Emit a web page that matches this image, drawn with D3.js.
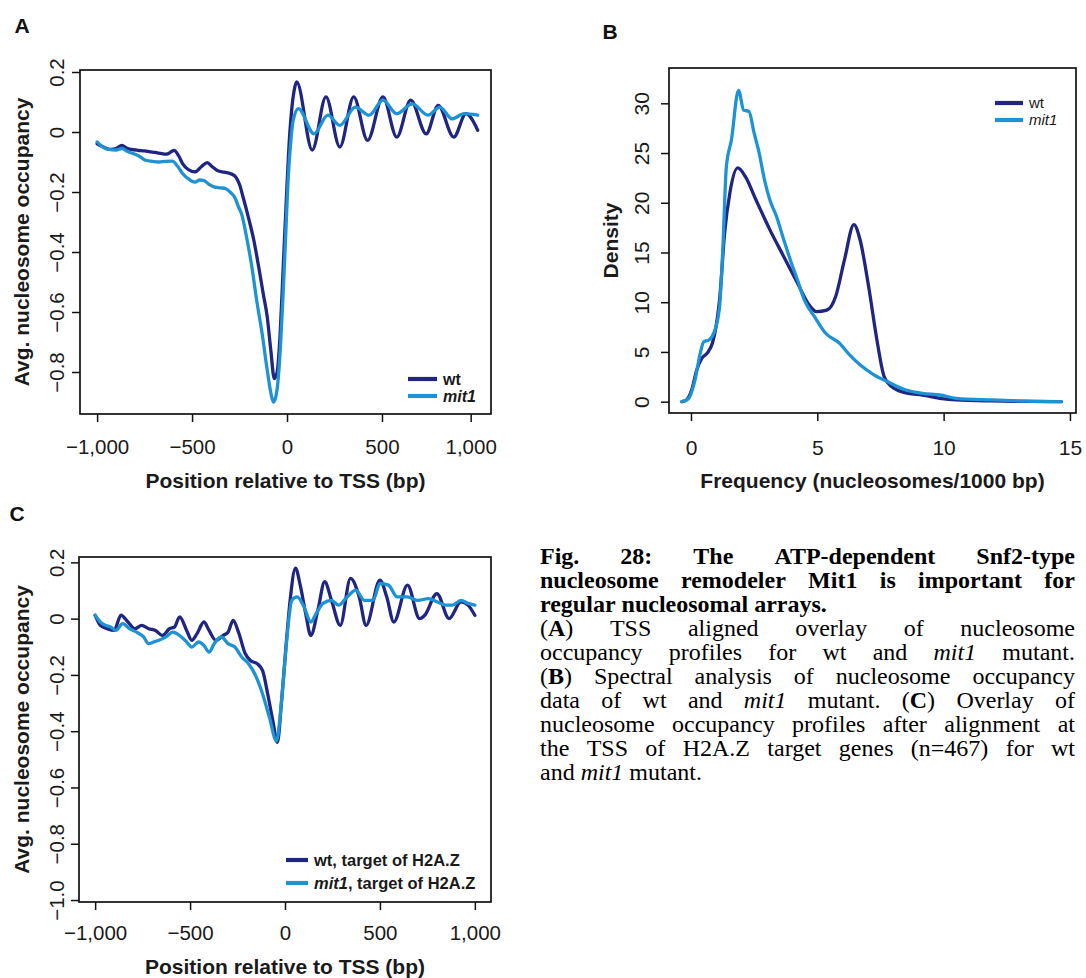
<!DOCTYPE html>
<html><head><meta charset="utf-8">
<script src="https://cdn.jsdelivr.net/npm/d3@7"></script>
<style>body{margin:0;background:#fff}svg{display:block}</style>
</head><body>
<svg id="fig" width="1086" height="978"></svg>
<script>
// ---------- Panel A data (position relative to TSS, bp) ----------
const aWtX = [-1000,-967,-930,-900,-870,-840,-820,-785,-750,-720,-695,-660,-635,-610,-595,-570,-550,-520,-485,-450,-420,-395,-367,-330,-296,-270,-250,-230,-204,-175,-149,-125,-104,-85,-67,-52,-36,-20,-4,10,24,38,51,133,205,278,351,424,505,578,651,733,796,878,942,1004];
const aWtY = [-0.039,-0.05,-0.058,-0.055,-0.045,-0.055,-0.058,-0.061,-0.063,-0.066,-0.068,-0.072,-0.074,-0.066,-0.061,-0.08,-0.105,-0.125,-0.133,-0.115,-0.102,-0.115,-0.128,-0.134,-0.139,-0.15,-0.175,-0.22,-0.283,-0.36,-0.45,-0.54,-0.617,-0.73,-0.822,-0.8,-0.67,-0.45,-0.23,-0.05,0.07,0.14,0.167,-0.06,0.117,-0.05,0.117,-0.028,0.117,-0.017,0.106,-0.006,0.089,-0.017,0.061,0.006];
const aMitX = [-1000,-970,-940,-900,-870,-840,-809,-780,-745,-710,-676,-640,-604,-575,-549,-515,-485,-460,-440,-410,-385,-350,-322,-300,-276,-255,-240,-210,-185,-160,-131,-105,-85,-72,-60,-49,-35,-22,-8,5,20,33,60,142,215,278,360,433,505,578,660,742,805,869,933,1004];
const aMitY = [-0.033,-0.05,-0.058,-0.06,-0.055,-0.065,-0.072,-0.08,-0.094,-0.098,-0.1,-0.098,-0.097,-0.115,-0.139,-0.158,-0.167,-0.16,-0.161,-0.175,-0.183,-0.186,-0.189,-0.2,-0.217,-0.25,-0.272,-0.36,-0.45,-0.56,-0.672,-0.79,-0.87,-0.9,-0.885,-0.84,-0.72,-0.56,-0.36,-0.17,-0.03,0.04,0.078,-0.006,0.056,0.022,0.083,0.056,0.106,0.061,0.094,0.056,0.083,0.044,0.061,0.056];
const aXTicks = [-1000,-500,0,500,967];
const aXLabels = ["\u22121,000","\u2212500","0","500","1,000"];
const aYTicks = [0.2,0,-0.2,-0.4,-0.6,-0.8];
const aYLabels = ["0.2","0","\u22120.2","\u22120.4","\u22120.6","\u22120.8"];

// ---------- Panel B data (frequency, nucleosomes/1000 bp) ----------
const bWtX = [-0.36,-0.18,0.03,0.23,0.44,0.65,0.85,0.99,1.13,1.33,1.54,1.85,2.16,2.57,3.12,3.67,4.22,4.63,4.97,5.38,5.73,6.07,6.45,6.69,7.03,7.38,7.65,8.06,8.6,9.16,9.85,10.5,11.9,13.3,14.66];
const bWtY = [0,0.17,1.2,3.2,4.4,4.9,5.9,7.5,10.2,16.9,21,23.5,22.6,20.3,17.3,14.6,11.9,9.9,9.05,9.2,10.6,14.2,17.8,16.3,11.6,5.9,2.5,1.3,0.84,0.67,0.34,0.17,0.07,0.03,0];
const bMitX = [-0.36,-0.1,0.16,0.37,0.5,0.71,0.92,1.13,1.26,1.4,1.6,1.88,2.09,2.29,2.5,2.7,2.91,3.12,3.39,3.67,3.94,4.22,4.49,4.9,5.32,5.87,6.28,6.69,7.24,7.79,8.48,9.16,9.85,10.5,11.9,13.3,14.66];
const bMitY = [0,0.3,2.2,4.9,6.0,6.2,7.0,9.5,15.3,23.6,26.3,31.3,29.3,29.2,27,25,22.3,20.3,18.6,16.3,14.2,12.2,10.2,8.5,6.9,5.9,4.7,3.7,2.7,2.0,1.2,0.84,0.67,0.34,0.17,0.05,0];
const bXTicks = [0,5,10,15];
const bXLabels = ["0","5","10","15"];
const bYTicks = [0,5,10,15,20,25,30];
const bYLabels = ["0","5","10","15","20","25","30"];

// ---------- Panel C data (H2A.Z target genes) ----------
const cWtX = [-1000,-973,-936,-900,-864,-827,-791,-755,-718,-682,-645,-609,-582,-555,-518,-491,-464,-427,-400,-364,-327,-300,-273,-245,-209,-182,-145,-118,-91,-64,-40,-18,5,27,55,82,109,136,173,209,245,291,345,391,427,500,536,573,645,709,736,800,864,927,964,1000];
const cWtY = [0.012,-0.024,-0.036,-0.042,0.012,-0.012,-0.036,-0.024,-0.036,-0.042,-0.06,-0.036,-0.03,0.006,-0.042,-0.077,-0.054,-0.012,-0.042,-0.077,-0.06,-0.048,-0.006,-0.048,-0.125,-0.149,-0.161,-0.185,-0.268,-0.363,-0.44,-0.292,-0.101,0.065,0.179,0.113,0.018,-0.06,0.03,0.131,0.065,-0.024,0.143,0.077,-0.024,0.137,0.077,-0.012,0.119,0,0.012,0.089,0,0.06,0.048,0.012];
const cMitX = [-1000,-973,-945,-918,-891,-855,-818,-782,-745,-718,-691,-664,-627,-591,-555,-518,-491,-455,-427,-400,-373,-336,-300,-264,-227,-191,-155,-118,-82,-45,-18,9,36,64,100,136,164,200,245,282,327,373,418,464,500,545,591,645,700,755,800,845,882,927,964,1000];
const cMitY = [0.012,-0.012,-0.024,-0.03,-0.042,-0.018,-0.036,-0.048,-0.065,-0.089,-0.083,-0.077,-0.065,-0.048,-0.06,-0.083,-0.101,-0.083,-0.095,-0.119,-0.089,-0.065,-0.089,-0.101,-0.137,-0.161,-0.202,-0.268,-0.351,-0.435,-0.292,-0.077,0.065,0.077,0.042,-0.012,0.018,0.054,0.065,0.048,0.077,0.101,0.065,0.065,0.125,0.119,0.077,0.077,0.065,0.071,0.06,0.048,0.048,0.065,0.054,0.048];
const cXTicks = [-1000,-500,0,500,1000];
const cXLabels = ["\u22121,000","\u2212500","0","500","1,000"];
const cYTicks = [0.2,0,-0.2,-0.4,-0.6,-0.8,-1.0];
const cYLabels = ["0.2","0","\u22120.2","\u22120.4","\u22120.6","\u22120.8","\u22121.0"];

// ---------- Caption ----------
const captionLines = [
  {runs:[["Fig. 28: The ATP-dependent Snf2-type","b"]], justify:true},
  {runs:[["nucleosome remodeler Mit1 is important for","b"]], justify:true},
  {runs:[["regular nucleosomal arrays.","b"]], justify:false},
  {runs:[["(",""],["A","b"],[") TSS aligned overlay of nucleosome",""]], justify:true},
  {runs:[["occupancy profiles for wt and ",""],["mit1","i"],[" mutant.",""]], justify:true},
  {runs:[["(",""],["B","b"],[") Spectral analysis of nucleosome occupancy",""]], justify:true},
  {runs:[["data of wt and ",""],["mit1","i"],[" mutant. (",""],["C","b"],[") Overlay of",""]], justify:true},
  {runs:[["nucleosome occupancy profiles after alignment at",""]], justify:true},
  {runs:[["the TSS of H2A.Z target genes (n=467) for wt",""]], justify:true},
  {runs:[["and ",""],["mit1","i"],[" mutant.",""]], justify:false}
];

// ---------- Drawing ----------
const WT = "#1f2580", MIT = "#1e93d3", INK = "#111";
const SANS = "'Liberation Sans', Arial, Helvetica, sans-serif";
const SERIF = "'Liberation Serif', 'Times New Roman', serif";
const svg = d3.select("#fig");
svg.append("rect").attr("width",1086).attr("height",978).attr("fill","#fff");

function panel(o){
  const g = svg.append("g");
  const b = o.box;
  const x = d3.scaleLinear().domain(o.xDomain).range([b.l,b.r]);
  const y = d3.scaleLinear().domain(o.yDomain).range([b.b,b.t]);
  const cid = "clip"+o.name;
  svg.append("clipPath").attr("id",cid).append("rect")
    .attr("x",b.l).attr("y",b.t).attr("width",b.r-b.l).attr("height",b.b-b.t);
  const line = d3.line().x(d=>x(d[0])).y(d=>y(d[1])).curve(d3.curveMonotoneX);
  o.series.forEach(s=>{
    g.append("path").datum(d3.zip(s.x,s.y)).attr("d",line)
      .attr("fill","none").attr("stroke",s.color).attr("stroke-width",3.3)
      .attr("stroke-linejoin","round").attr("stroke-linecap","round")
      .attr("clip-path",`url(#${cid})`);
  });
  g.append("rect").attr("x",b.l).attr("y",b.t).attr("width",b.r-b.l).attr("height",b.b-b.t)
    .attr("fill","none").attr("stroke",INK).attr("stroke-width",1.7);

  const xa = g.append("g").attr("transform",`translate(0,${b.b})`)
    .call(d3.axisBottom(x).tickValues(o.xTicks).tickFormat((d,i)=>o.xLabels[i]).tickSize(8).tickSizeOuter(0));
  xa.select(".domain").remove();
  xa.selectAll(".tick line").attr("stroke",INK).attr("stroke-width",1.5);
  xa.selectAll(".tick text").attr("y",o.xLabY-b.b).attr("dy","0.36em")
    .attr("font-family",SANS).attr("font-size",o.tickFs).attr("fill","#1a1a1a");

  const ya = g.append("g").attr("transform",`translate(${b.l},0)`)
    .call(d3.axisLeft(y).tickValues(o.yTicks).tickFormat((d,i)=>o.yLabels[i]).tickSize(8).tickSizeOuter(0));
  ya.select(".domain").remove();
  ya.selectAll(".tick line").attr("stroke",INK).attr("stroke-width",1.5);
  ya.selectAll(".tick text").attr("x",0).attr("y",0).attr("dy","0.36em")
    .attr("text-anchor","middle")
    .attr("transform",`translate(${o.yLabX-b.l},0) rotate(-90)`)
    .attr("font-family",SANS).attr("font-size",o.tickFs).attr("fill","#1a1a1a");

  g.append("text").attr("x",(b.l+b.r)/2).attr("y",o.xTitleY).attr("dy","0.36em")
    .attr("text-anchor","middle").attr("font-family",SANS).attr("font-weight","bold")
    .attr("font-size",o.titleFs).attr("fill","#1a1a1a").text(o.xTitle);
  g.append("text").attr("transform",`translate(${o.yTitleX},${(b.t+b.b)/2}) rotate(-90)`)
    .attr("dy","0.36em").attr("text-anchor","middle").attr("font-family",SANS).attr("font-weight","bold")
    .attr("font-size",o.titleFs).attr("fill","#1a1a1a").text(o.yTitle);

  g.append("text").attr("x",o.label[0]).attr("y",o.label[1]).attr("dy","0.36em")
    .attr("text-anchor","middle").attr("font-family",SANS).attr("font-weight","bold")
    .attr("font-size",21).attr("fill","#111").text(o.name);

  const L = o.legend;
  o.series.forEach((s,i)=>{
    const yy = L.y[i];
    g.append("line").attr("x1",L.x1).attr("x2",L.x2).attr("y1",yy).attr("y2",yy)
      .attr("stroke",s.color).attr("stroke-width",4.2);
    const t = g.append("text").attr("x",L.tx).attr("y",yy).attr("dy","0.36em")
      .attr("font-family",SANS).attr("font-size",L.fs).attr("fill","#1a1a1a")
      .attr("font-weight",L.bold?"bold":"normal");
    s.legend.forEach(r=>{
      t.append("tspan").attr("font-style",r[1]==="i"?"italic":"normal").text(r[0]);
    });
  });
}

panel({name:"A", box:{l:80,r:491,t:70,b:414},
  xDomain:[-1090,1074], yDomain:[-0.94,0.2067],
  xTicks:aXTicks, xLabels:aXLabels, yTicks:aYTicks, yLabels:aYLabels,
  xLabY:447, xTitleY:480, yLabX:57, yTitleX:21, tickFs:20.5, titleFs:21,
  xTitle:"Position relative to TSS (bp)", yTitle:"Avg. nucleosome occupancy",
  label:[22,25],
  series:[{x:aWtX,y:aWtY,color:WT,legend:[["wt",""]]},{x:aMitX,y:aMitY,color:MIT,legend:[["mit1","i"]]}],
  legend:{x1:408,x2:437,tx:443,y:[379,396],fs:16,bold:true}
});

panel({name:"B", box:{l:669,r:1076,t:68,b:413},
  xDomain:[-0.87,15.24], yDomain:[-1.14,33.55],
  xTicks:bXTicks, xLabels:bXLabels, yTicks:bYTicks, yLabels:bYLabels,
  xLabY:447, xTitleY:480, yLabX:641, yTitleX:610, tickFs:21, titleFs:21,
  xTitle:"Frequency (nucleosomes/1000 bp)", yTitle:"Density",
  label:[610,31],
  series:[{x:bWtX,y:bWtY,color:WT,legend:[["wt",""]]},{x:bMitX,y:bMitY,color:MIT,legend:[["mit1","i"]]}],
  legend:{x1:995,x2:1023,tx:1029,y:[103,120],fs:15,bold:false}
});

panel({name:"C", box:{l:79,r:491,t:557,b:902},
  xDomain:[-1085,1085], yDomain:[-1.007,0.219],
  xTicks:cXTicks, xLabels:cXLabels, yTicks:cYTicks, yLabels:cYLabels,
  xLabY:933, xTitleY:966, yLabX:57, yTitleX:21, tickFs:20.5, titleFs:21,
  xTitle:"Position relative to TSS (bp)", yTitle:"Avg. nucleosome occupancy",
  label:[17,513],
  series:[{x:cWtX,y:cWtY,color:WT,legend:[["wt, target of H2A.Z",""]]},{x:cMitX,y:cMitY,color:MIT,legend:[["mit1","i"],[", target of H2A.Z",""]]}],
  legend:{x1:286,x2:308,tx:314,y:[860,883],fs:16.5,bold:true}
});

// caption with justification
const cap = {x0:540, x1:1075, y0:564, lh:24, fs:24, fsBold:24};
const capG = svg.append("g");
captionLines.forEach((ln,li)=>{
  const words=[[]];
  ln.runs.forEach(r=>{
    r[0].split(" ").forEach((part,j)=>{
      if(j>0) words.push([]);
      if(part) words[words.length-1].push([part,r[1]]);
    });
  });
  const ws = words.filter(w=>w.length);
  const allBold = ln.runs.every(r=>r[1]==="b");
  const fs = allBold ? cap.fsBold : cap.fs;
  const yy = cap.y0 + li*cap.lh;
  const nodes = ws.map(w=>{
    const t = capG.append("text").attr("y",yy).attr("font-family",SERIF)
      .attr("font-size",fs).attr("fill","#000");
    w.forEach(r=>{
      t.append("tspan").attr("font-weight",r[1]==="b"?"bold":"normal")
        .attr("font-style",r[1]==="i"?"italic":"normal").text(r[0]);
    });
    return t;
  });
  const widths = nodes.map(t=>t.node().getComputedTextLength());
  const total = d3.sum(widths);
  const gap = (ln.justify && ws.length>1) ? (cap.x1-cap.x0-total)/(ws.length-1) : fs*0.25;
  let xx = cap.x0;
  nodes.forEach((t,i)=>{ t.attr("x",xx); xx += widths[i]+gap; });
});
</script>
</body></html>
